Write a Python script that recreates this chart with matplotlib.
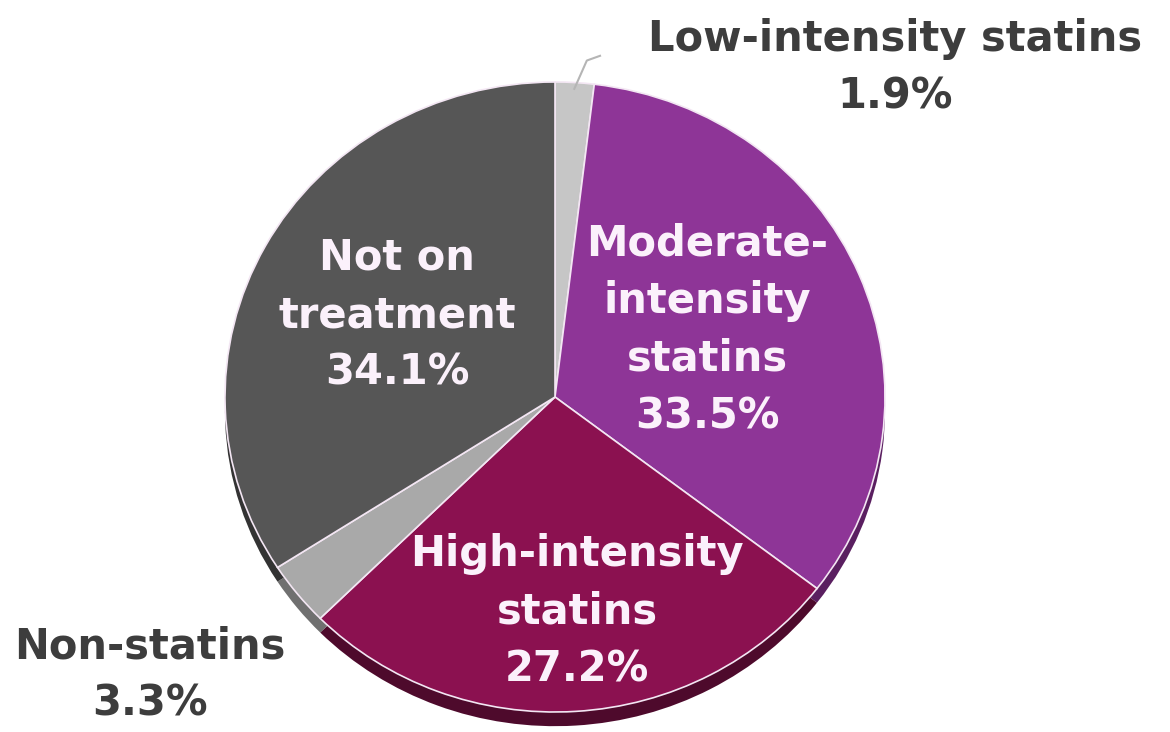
import numpy as np
import matplotlib.pyplot as plt

# slices clockwise from 12 o'clock
names=["Low-intensity statins","Moderate-\nintensity\nstatins","High-intensity\nstatins","Non-statins","Not on\ntreatment"]
shares=[1.9,33.5,27.2,3.3,34.1]
colors=["#c6c6c6","#8e3597","#8b1150","#a9a9a9","#565656"]
rim=["#8a8a8a","#5a1f60","#4e0a2c","#707070","#333333"]

W,H=1170,732
fig=plt.figure(figsize=(W/100,H/100),dpi=100)
ax=fig.add_axes([0,0,1,1])
cx,cy,rx,ry=555,397,330,315

# thickness of the tilted pie
ax.pie(shares,colors=rim,startangle=90,counterclock=False,center=(0,-0.045),
       radius=1,wedgeprops=dict(linewidth=0),frame=True)
wedges,_=ax.pie(shares,colors=colors,startangle=90,counterclock=False,
       radius=1,wedgeprops=dict(edgecolor="#f3e6f3",linewidth=1.2),frame=True)
ax.set_xlim(-cx/rx,(W-cx)/rx)
ax.set_ylim(-(H-cy)/ry,cy/ry)
ax.set_aspect('auto')
ax.axis('off')

# leader for the thin top slice
w=wedges[0]
a=np.deg2rad((w.theta1+w.theta2)/2)
ax.plot([np.cos(a)*0.98,np.cos(a)*1.03+0.035,np.cos(a)*1.03+0.075],
        [np.sin(a)*0.98,np.sin(a)*1.05+0.02,np.sin(a)*1.05+0.035],color="#b5b5b5",lw=1.5)

def px(x,y):
    return x/W,1-y/H

fs=30
inside="#fbf1fb"
outside="#3d3d3d"
kw=dict(ha='center',va='center',fontsize=fs,fontweight='bold',linespacing=1.47)
labs=[f"{n}\n{s}%" for n,s in zip(names,shares)]
fig.text(*px(895,68),labs[0],color=outside,**kw)
fig.text(*px(707,330),labs[1],color=inside,**kw)
fig.text(*px(577,612),labs[2],color=inside,**kw)
fig.text(*px(150,675),labs[3],color=outside,**kw)
fig.text(*px(397,315),labs[4],color=inside,**kw)

plt.savefig("out.png",dpi=100)
